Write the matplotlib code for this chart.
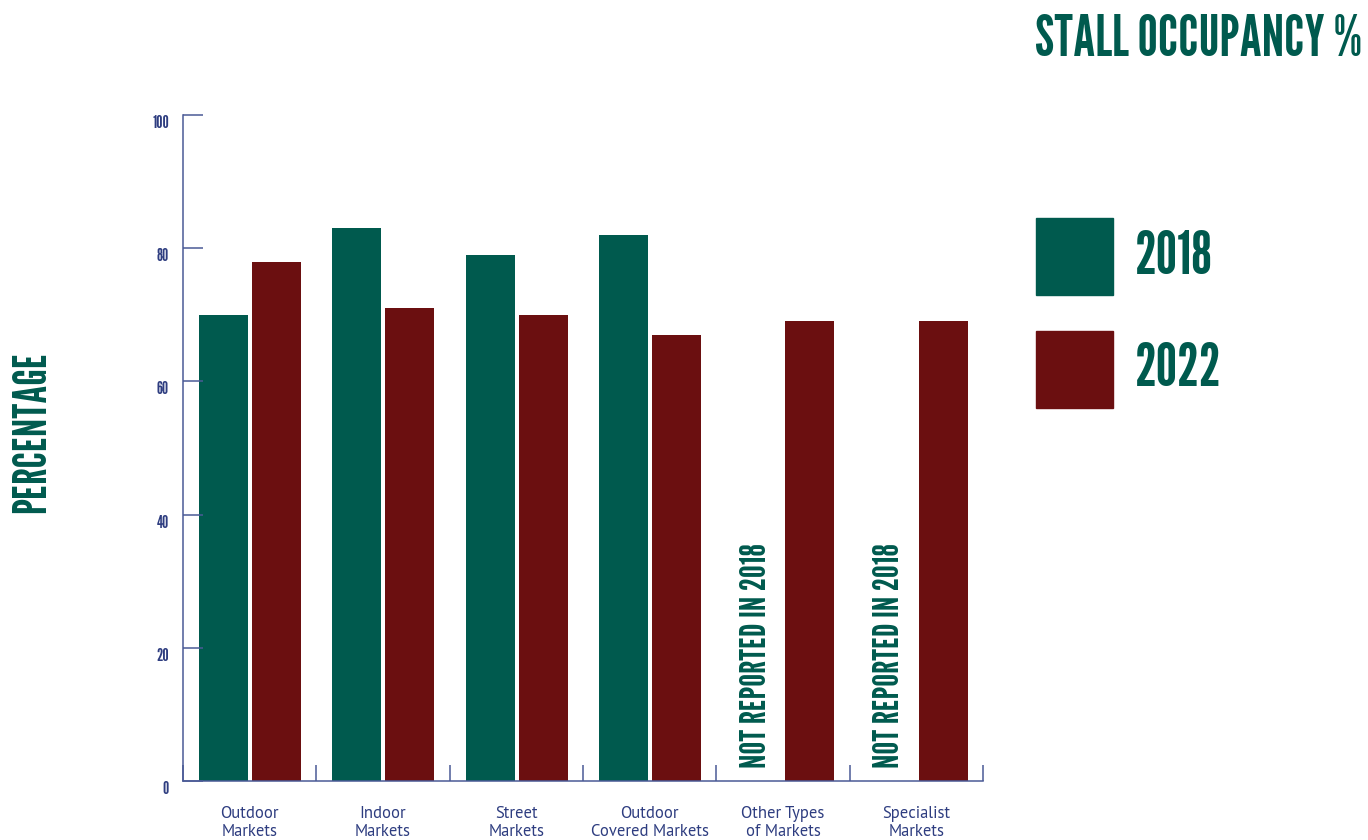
import matplotlib
matplotlib.use('Agg')
import matplotlib.pyplot as plt

categories = ['Outdoor\nMarkets', 'Indoor\nMarkets', 'Street\nMarkets',
              'Outdoor\nCovered Markets', 'Other Types\nof Markets', 'Specialist\nMarkets']
vals_2018 = [70, 83, 79, 82, None, None]
vals_2022 = [78, 71, 70, 67, 69, 69]
yticks = [0, 20, 40, 60, 80, 100]

green = '#005a4e'
red = '#6b0f10'
axis_col = '#4a5a96'
text_col = '#2e3d80'
narrow = ['League Gothic', 'DejaVu Sans']

fig = plt.figure(figsize=(13.68, 8.4), dpi=100)
ax = fig.add_axes([183/1368, 1-781/840, 800/1368, 666/840])

w = 0.368
for i, (a, b) in enumerate(zip(vals_2018, vals_2022)):
    if a is not None:
        ax.bar(i + 0.304, a, width=w, color=green)
    else:
        ax.text(i + 0.3, 2, 'NOT REPORTED IN 2018', rotation=90, ha='center', va='bottom',
                color=green, fontsize=26, family=narrow)
    ax.bar(i + 0.702, b, width=w, color=red)

ax.set_xlim(0, 6)
ax.set_ylim(0, 100)
for s in ['top', 'right']:
    ax.spines[s].set_visible(False)
for s in ['left', 'bottom']:
    ax.spines[s].set_color(axis_col)
    ax.spines[s].set_linewidth(1.1)

ax.set_yticks(yticks)
ax.set_yticklabels([str(t) for t in yticks], family=narrow, fontsize=12.5, color=text_col)
ax.tick_params(axis='y', direction='in', length=14.4, width=1.1, color=axis_col, pad=10)
for lab in ax.get_yticklabels():
    lab.set_verticalalignment('top')

ax.set_xticks(range(7))
ax.set_xticklabels([])
ax.tick_params(axis='x', direction='in', length=11.5, width=1.1, color=axis_col)
for i, c in enumerate(categories):
    ax.text(i + 0.5, -3.8, c, ha='center', va='top', fontsize=12, color=text_col,
            family='PT Sans', linespacing=1.15)

fig.text(33/1368, 1-432/840, 'PERCENTAGE', rotation=90, ha='center', va='center',
         color=green, fontsize=33, family=narrow)
fig.text(1362/1368, 1-41/840, 'STALL OCCUPANCY %', ha='right', va='center',
         color=green, fontsize=41, family=narrow)

leg = [('2018', green, 218), ('2022', red, 331)]
for lab, col, top in leg:
    fig.patches.append(plt.Rectangle((1036/1368, 1-(top+77)/840), 77/1368, 77/840,
                                     transform=fig.transFigure, color=col))
    fig.text(1135/1368, 1-(top+39)/840, lab, ha='left', va='center', color=green,
             fontsize=43, family=narrow)

plt.savefig('out.png', dpi=100)
